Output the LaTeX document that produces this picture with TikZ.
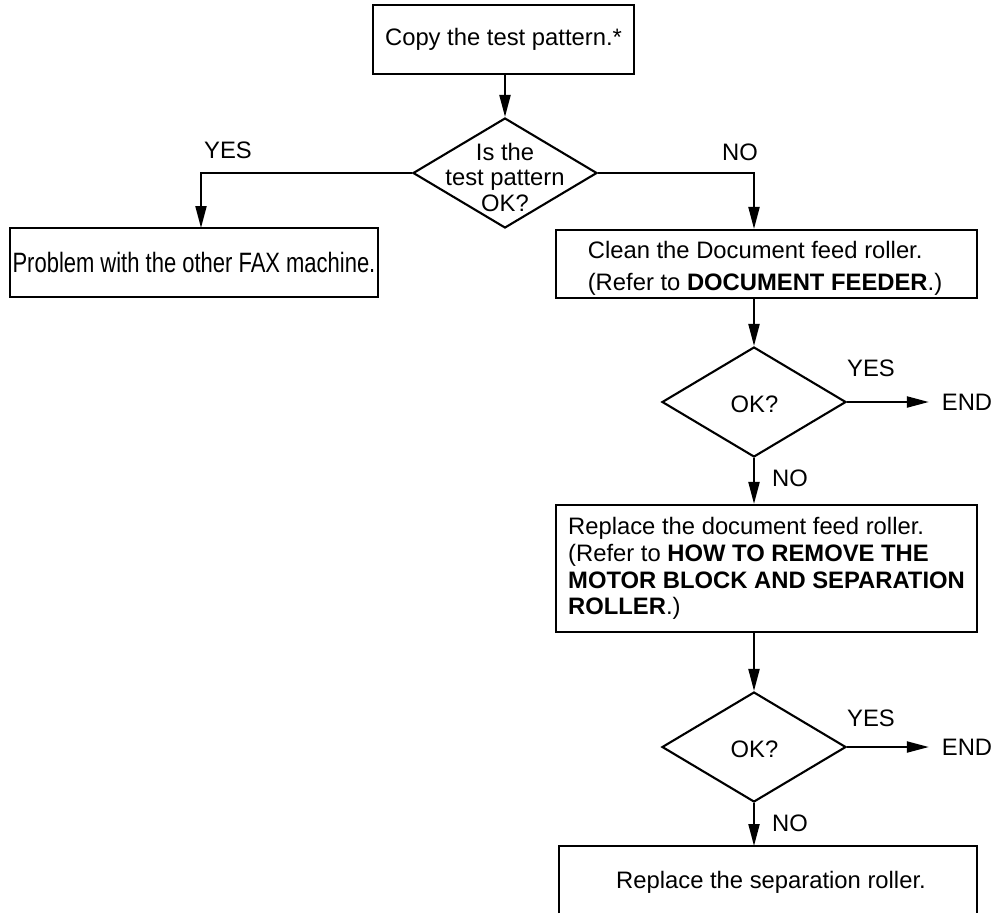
\documentclass[tikz,border=0pt]{standalone}
\usepackage{fontspec}
\setmainfont{Liberation Sans}
\usetikzlibrary{shapes.geometric,arrows.meta}
\begin{document}
\begin{tikzpicture}[x=1pt,y=-1pt, line width=2.1pt,
  every node/.style={font=\fontsize{23.8}{26.7}\selectfont},
  box/.style={draw, rectangle, inner sep=0pt, align=left},
  dec/.style={draw, diamond, inner sep=0pt, minimum width=184pt, minimum height=110pt},
  arr/.style={-{Triangle[length=22pt,width=11pt]}},
  lbl/.style={inner sep=0pt}]
\useasboundingbox (0,0) rectangle (1000,913);

% process boxes and decisions
\node[box, minimum width=261pt, minimum height=69pt] (copy) at (503.5,39.5) {Copy the test pattern.*};
\node[dec] (d1) at (505,173) {};
\node[lbl, align=center, font=\fontsize{23.8}{25.5}\selectfont] (d1t) at (505,177) {Is the\\test pattern\\OK?};
\node[box, minimum width=368pt, minimum height=69pt] (fax) at (194,262.5) {\fontsize{28}{30}\selectfont\scalebox{0.785}[1]{Problem with the other FAX machine.}};
\node[box, minimum width=421pt, minimum height=68pt] (clean) at (766.5,264) {};
\node[lbl, align=left, font=\fontsize{23.8}{31.7}\selectfont] (cleant) at (765,268) {Clean the Document feed roller.\\(Refer to \textbf{DOCUMENT FEEDER}.)};
\node[dec] (d2) at (754,402) {};
\node[lbl] (d2t) at (754.5,404) {OK?};
\node[box, minimum width=421pt, minimum height=127pt] (rep) at (766.5,568.5) {Replace the document feed roller.\\(Refer to \textbf{HOW TO REMOVE THE}\\\textbf{MOTOR BLOCK AND SEPARATION}\\\textbf{ROLLER}.)};
\node[dec] (d3) at (754,747) {};
\node[lbl] (d3t) at (754.5,749) {OK?};
\draw (559,913) -- (559,846) -- (977,846) -- (977,913);
\node[lbl] (sep) at (771,882) {Replace the separation roller.};
\node[lbl, inner xsep=12pt] (end1) at (967,402) {END};
\node[lbl, inner xsep=12pt] (end2) at (967,747) {END};
\coordinate (faxin) at (201,228);
\coordinate (sepin) at (754,846);

% connectors
\draw[arr] (d1.north |- copy.south) -- (d1.north);
\draw[arr] (d1.west) -| (faxin);
\draw[arr] (d1.east) -| (clean.north -| d2.north);
\draw[arr] (d2.north |- clean.south) -- (d2.north);
\draw[arr] (d2.east) -- (d2.east -| end1.west);
\draw[arr] (d2.south) -- (d2.south |- rep.north);
\draw[arr] (d3.north |- rep.south) -- (d3.north);
\draw[arr] (d3.east) -- (d3.east -| end2.west);
\draw[arr] (d3.south) -- (sepin);

% branch labels
\node[lbl] (y1) at (228,150) {YES};
\node[lbl] (n1) at (740,152.5) {NO};
\node[lbl] (y2) at (871,368) {YES};
\node[lbl] (n2) at (790,478) {NO};
\node[lbl] (y3) at (871,718) {YES};
\node[lbl] (n3) at (790,823) {NO};
\end{tikzpicture}
\end{document}
